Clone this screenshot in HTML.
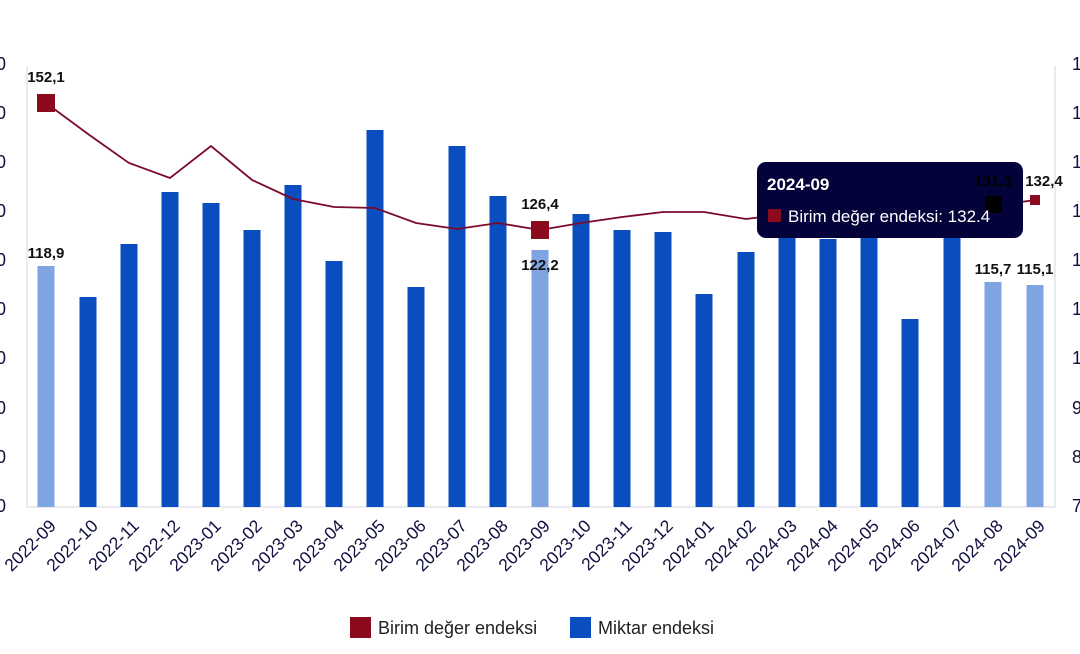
<!DOCTYPE html>
<html><head><meta charset="utf-8"><style>body{margin:0;background:#fff}svg{display:block}</style></head>
<body>
<svg width="1080" height="654" xmlns="http://www.w3.org/2000/svg" font-family="Liberation Sans, Arial, sans-serif">
<line x1="27" y1="66" x2="27" y2="507" stroke="#d6d6e0"/>
<line x1="1055" y1="66" x2="1055" y2="507" stroke="#d6d6e0"/>
<line x1="27" y1="507" x2="1055" y2="507" stroke="#d6d6e0"/>
<g font-size="18" fill="#101040" text-anchor="end">
<text x="6" y="70">160</text><text x="6" y="119">150</text><text x="6" y="168">140</text><text x="6" y="217">130</text><text x="6" y="266">120</text><text x="6" y="315">110</text><text x="6" y="364">100</text><text x="6" y="414">90</text><text x="6" y="463">80</text><text x="6" y="512">70</text>
</g>
<g font-size="18" fill="#101040">
<text x="1072" y="70">150</text><text x="1072" y="119">140</text><text x="1072" y="168">130</text><text x="1072" y="217">120</text><text x="1072" y="266">110</text><text x="1072" y="315">100</text><text x="1072" y="364">100</text><text x="1072" y="414">90</text><text x="1072" y="463">80</text><text x="1072" y="512">70</text>
</g>
<g fill="#0a4dbf">
<rect x="37.5" y="266" width="17" height="241" fill="#7ea4e2"/>
<rect x="79.5" y="297" width="17" height="210"/>
<rect x="120.5" y="244" width="17" height="263"/>
<rect x="161.5" y="192" width="17" height="315"/>
<rect x="202.5" y="203" width="17" height="304"/>
<rect x="243.5" y="230" width="17" height="277"/>
<rect x="284.5" y="185" width="17" height="322"/>
<rect x="325.5" y="261" width="17" height="246"/>
<rect x="366.5" y="130" width="17" height="377"/>
<rect x="407.5" y="287" width="17" height="220"/>
<rect x="448.5" y="146" width="17" height="361"/>
<rect x="489.5" y="196" width="17" height="311"/>
<rect x="531.5" y="250" width="17" height="257" fill="#7ea4e2"/>
<rect x="572.5" y="214" width="17" height="293"/>
<rect x="613.5" y="230" width="17" height="277"/>
<rect x="654.5" y="232" width="17" height="275"/>
<rect x="695.5" y="294" width="17" height="213"/>
<rect x="737.5" y="252" width="17" height="255"/>
<rect x="778.5" y="208" width="17" height="299"/>
<rect x="819.5" y="239" width="17" height="268"/>
<rect x="860.5" y="222" width="17" height="285"/>
<rect x="901.5" y="319" width="17" height="188"/>
<rect x="943.5" y="224" width="17" height="283"/>
<rect x="984.5" y="282" width="17" height="225" fill="#7ea4e2"/>
<rect x="1026.5" y="285" width="17" height="222" fill="#7ea4e2"/>
</g>
<polyline fill="none" stroke="#7a0a2a" stroke-width="1.8" points="46,103 88,134 129,163 170,178 211,146 252,180 293,199 334,207 375,208 416,223 457,229 498,223 540,230 581,223 622,217 663,212 704,212 746,219 787,214 828,209 869,207 910,210 952,206 993,206 1035,200"/>
<rect x="37" y="94" width="18" height="18" fill="#8b0a1e"/>
<rect x="531" y="221" width="18" height="18" fill="#8b0a1e"/>
<rect x="1030" y="195" width="10" height="10" fill="#8b0a1e"/>
<g font-size="15" font-weight="bold" fill="#111" text-anchor="middle">
<text x="46" y="82">152,1</text><text x="46" y="258">118,9</text>
<text x="540" y="209">126,4</text><text x="540" y="270">122,2</text>
<text x="993" y="274">115,7</text><text x="1035" y="274">115,1</text>
<text x="1044" y="186">132,4</text>
</g>
<rect x="757" y="162" width="266" height="76" rx="9" fill="#03033a"/>
<text x="993" y="186" font-size="15" font-weight="bold" fill="#000" text-anchor="middle">131,3</text>
<rect x="985" y="196" width="17" height="17" fill="#000"/>
<text x="767" y="190" font-size="17" font-weight="bold" fill="#fff">2024-09</text>
<rect x="768" y="209" width="13" height="13" fill="#8b0a1e"/>
<text x="788" y="222" font-size="17" fill="#fff">Birim değer endeksi: 132.4</text>
<g font-size="17.5" fill="#101040" text-anchor="end">
<text transform="translate(57,527) rotate(-45)">2022-09</text>
<text transform="translate(99,527) rotate(-45)">2022-10</text>
<text transform="translate(140,527) rotate(-45)">2022-11</text>
<text transform="translate(181,527) rotate(-45)">2022-12</text>
<text transform="translate(222,527) rotate(-45)">2023-01</text>
<text transform="translate(263,527) rotate(-45)">2023-02</text>
<text transform="translate(304,527) rotate(-45)">2023-03</text>
<text transform="translate(345,527) rotate(-45)">2023-04</text>
<text transform="translate(386,527) rotate(-45)">2023-05</text>
<text transform="translate(427,527) rotate(-45)">2023-06</text>
<text transform="translate(468,527) rotate(-45)">2023-07</text>
<text transform="translate(509,527) rotate(-45)">2023-08</text>
<text transform="translate(551,527) rotate(-45)">2023-09</text>
<text transform="translate(592,527) rotate(-45)">2023-10</text>
<text transform="translate(633,527) rotate(-45)">2023-11</text>
<text transform="translate(674,527) rotate(-45)">2023-12</text>
<text transform="translate(715,527) rotate(-45)">2024-01</text>
<text transform="translate(757,527) rotate(-45)">2024-02</text>
<text transform="translate(798,527) rotate(-45)">2024-03</text>
<text transform="translate(839,527) rotate(-45)">2024-04</text>
<text transform="translate(880,527) rotate(-45)">2024-05</text>
<text transform="translate(921,527) rotate(-45)">2024-06</text>
<text transform="translate(963,527) rotate(-45)">2024-07</text>
<text transform="translate(1004,527) rotate(-45)">2024-08</text>
<text transform="translate(1046,527) rotate(-45)">2024-09</text>
</g>
<rect x="350" y="617" width="21" height="21" fill="#8b0a1e"/>
<text x="378" y="634" font-size="18" fill="#222">Birim değer endeksi</text>
<rect x="570" y="617" width="21" height="21" fill="#0a4dbf"/>
<text x="598" y="634" font-size="18" fill="#222">Miktar endeksi</text>
</svg>
</body></html>
